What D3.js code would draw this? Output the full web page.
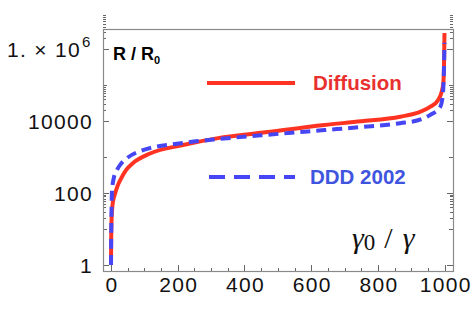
<!DOCTYPE html>
<html>
<head>
<meta charset="utf-8">
<script src="https://cdn.jsdelivr.net/npm/d3@7/dist/d3.min.js"></script>
<style>
  body { margin: 0; background: #fff; }
  svg { display: block; }
  .tick-label { font-family: "Liberation Sans", sans-serif; font-size: 21px; fill: #111; letter-spacing: 1.3px; }
</style>
</head>
<body>
<div id="chart"></div>
<script>
(function() {
  var WIDTH = 473, HEIGHT = 327;

  // gamma0/gamma values and R/R0 for each model
  var diffX = [0, 0.3, 1, 2, 4, 7, 12, 20, 30, 45, 66, 117, 216, 321, 450, 640, 750, 867, 920, 957, 980, 990, 996, 998.5, 999.5];
  var diffY = [1, 3, 10, 22, 42, 65, 95, 160, 250, 430, 680, 1250, 2150, 3350, 4700, 7800, 9800, 13200, 17000, 25000, 38000, 60000, 112000, 600000, 2800000];
  var dddX = [0, 0.5, 1.5, 3, 8, 18, 30, 48, 96, 216, 321, 450, 640, 750, 867, 920, 957, 987, 995, 998, 999.5];
  var dddY = [1, 5, 30, 120, 250, 440, 650, 930, 1550, 2450, 3150, 4000, 5600, 6800, 8700, 10500, 14800, 25000, 60000, 300000, 1500000];

  var xTicks = [0, 200, 400, 600, 800, 1000];
  var yMajor = [1, 100, 10000, 1000000];
  var yLabels = ["1", "100", "10000", "1. \u00d7 10"];

  var frame = {left: 103, top: 29, right: 453, bottom: 271};

  var x = d3.scaleLinear().domain([-24, 1025]).range([frame.left, frame.right]);
  var y = d3.scaleLog().domain([0.68, 3.6e6]).range([frame.bottom, frame.top]);

  var svg = d3.select('#chart').append('svg')
    .attr('width', WIDTH)
    .attr('height', HEIGHT);

  // minor log ticks the way the original plot shows them
  var yMinor = [];
  [1, 1000, 100000].forEach(function(base) {
    for (var j = 2; j <= 9; j++) yMinor.push(j * base * 10);
  });
  var yMid = [10, 1000, 100000];

  var xMinor = d3.range(0, 1001, 50).filter(function(v) { return v % 200 !== 0; });

  var ticks = svg.append('g').attr('stroke', '#666').attr('stroke-width', 1);
  function yTick(v, len) {
    var py = Math.round(y(v)) + 0.5;
    ticks.append('line').attr('x1', frame.left).attr('x2', frame.left + len).attr('y1', py).attr('y2', py);
    ticks.append('line').attr('x1', frame.right).attr('x2', frame.right - len).attr('y1', py).attr('y2', py);
  }
  yMajor.forEach(function(v) { yTick(v, 6); });
  yMid.forEach(function(v) { yTick(v, 4); });
  yMinor.forEach(function(v) { yTick(v, 3); });
  function xTick(v, len) {
    var px = Math.round(x(v)) + 0.5;
    ticks.append('line').attr('x1', px).attr('x2', px).attr('y1', frame.bottom).attr('y2', frame.bottom - len);
  }
  xTicks.forEach(function(v) { xTick(v, 6); });
  xMinor.forEach(function(v) { xTick(v, 3); });

  // frame
  svg.append('rect')
    .attr('x', frame.left + 0.5).attr('y', frame.top + 0.5)
    .attr('width', frame.right - frame.left).attr('height', frame.bottom - frame.top)
    .attr('fill', 'none').attr('stroke', '#8a8a8a').attr('stroke-width', 1.2);

  // tick labels
  svg.selectAll('.xl').data(xTicks).enter().append('text')
    .attr('class', 'tick-label')
    .attr('x', function(d) { return x(d) + 1; })
    .attr('y', 292)
    .attr('text-anchor', 'middle')
    .text(function(d) { return d; });

  yMajor.forEach(function(v, i) {
    svg.append('text')
      .attr('class', 'tick-label')
      .attr('x', i === 3 ? 81 : 93)
      .attr('y', y(v) + 8)
      .attr('text-anchor', 'end')
      .text(yLabels[i]);
    if (i === 3) {
      svg.append('text').attr('class', 'tick-label')
        .attr('x', 82).attr('y', y(v) - 2)
        .style('font-size', '15px')
        .text('6');
    }
  });

  // curves
  var line = d3.line()
    .x(function(d) { return x(d[0]); })
    .y(function(d) { return y(d[1]); })
    .curve(d3.curveMonotoneX);

  svg.append('path')
    .attr('d', line(d3.zip(diffX, diffY)))
    .attr('fill', 'none')
    .attr('stroke', '#ff3322')
    .attr('stroke-width', 4);

  svg.append('path')
    .attr('d', line(d3.zip(dddX, dddY)))
    .attr('fill', 'none')
    .attr('stroke', '#4646f5')
    .attr('stroke-width', 4)
    .attr('stroke-dasharray', '10,6');

  // legend
  svg.append('line')
    .attr('x1', 207).attr('x2', 295).attr('y1', 83).attr('y2', 83)
    .attr('stroke', '#ff3322').attr('stroke-width', 4);
  svg.append('text')
    .attr('x', 313).attr('y', 90)
    .style('font-family', '"Liberation Sans", Arial, sans-serif')
    .style('font-weight', 'bold').style('font-size', '20.5px')
    .attr('fill', '#e8312f')
    .text('Diffusion');

  svg.append('line')
    .attr('x1', 209).attr('x2', 295).attr('y1', 177).attr('y2', 177)
    .attr('stroke', '#4646f5').attr('stroke-width', 4)
    .attr('stroke-dasharray', '16,9');
  svg.append('text')
    .attr('x', 310).attr('y', 184)
    .style('font-family', '"Liberation Sans", Arial, sans-serif')
    .style('font-weight', 'bold').style('font-size', '20.5px')
    .attr('fill', '#3f55e0')
    .text('DDD 2002');

  // axis titles
  var rt = svg.append('text')
    .attr('x', 113).attr('y', 60)
    .style('font-family', '"Liberation Sans", Arial, sans-serif')
    .style('font-weight', 'bold').style('font-size', '18px')
    .attr('fill', '#000');
  rt.append('tspan').text('R / R');
  rt.append('tspan').attr('dy', 4).style('font-size', '11px').text('0');

  var gt = svg.append('text')
    .attr('x', 352).attr('y', 248)
    .style('font-family', '"Liberation Serif", "DejaVu Serif", serif')
    .style('font-size', '30px')
    .attr('fill', '#111');
  gt.append('tspan').style('font-style', 'italic').text('\u03b3');
  gt.append('tspan').attr('dy', 2).style('font-size', '23px').text('0');
  gt.append('tspan').attr('dy', -2).attr('dx', 9).text('/');
  gt.append('tspan').attr('dx', 10).style('font-style', 'italic').text('\u03b3');
})();
</script>
</body>
</html>
